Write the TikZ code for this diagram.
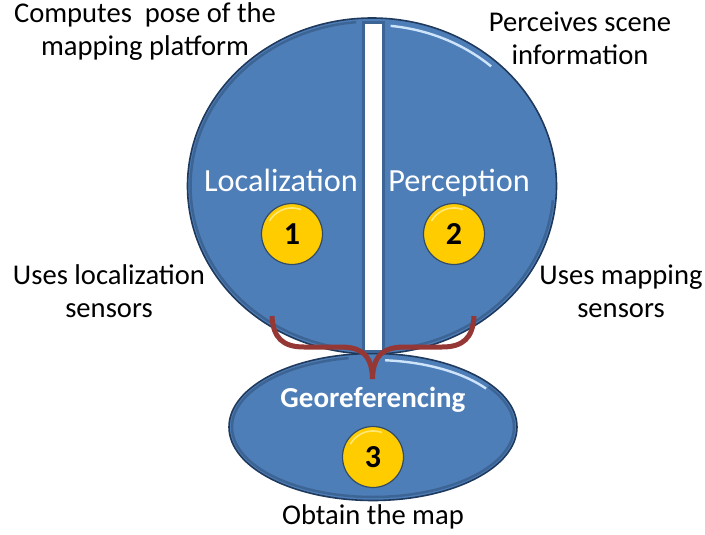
\documentclass[tikz,border=0pt]{standalone}
\usepackage{fontspec}
\setmainfont{Carlito}
\usetikzlibrary{positioning, shapes.geometric}
\definecolor{blobblue}{RGB}{78, 126, 184}
\definecolor{blobedge}{RGB}{32, 58, 94}
\definecolor{blobring}{RGB}{60, 100, 148}
\definecolor{blobglow}{RGB}{205, 228, 250}
\definecolor{bracered}{RGB}{149, 55, 53}
\definecolor{coinedge}{RGB}{50, 75, 105}
\definecolor{coinglow}{RGB}{255, 232, 120}
\pgfdeclareradialshading{coinshade}{\pgfpointorigin}{
    rgb(0bp)=(1,0.8,0);
    rgb(40bp)=(1,0.8,0);
    rgb(50bp)=(0.8,0.62,0);
    rgb(100bp)=(0.8,0.62,0)}
\tikzset{
    blobnode/.style={ellipse, draw=blobedge, line width=1.6pt, fill=blobblue, inner sep=0pt},
    coinnode/.style={circle, draw=coinedge, line width=1.2pt, minimum size=61pt, inner sep=0pt,
        shading=coinshade, font=\fontsize{32}{32}\selectfont\bfseries},
    titlenode/.style={anchor=base, text=white, font=\fontsize{32.3}{32}\selectfont},
    notenode/.style={align=center, text=black, font=\fontsize{28.6}{33}\selectfont},
    bracepath/.style={draw=bracered, line width=5pt}
}
\begin{document}
\begin{tikzpicture}[x=1pt, y=-1pt]
    \useasboundingbox (0,0) rectangle (705,535);

    % The two ellipses
    \node[blobnode, minimum width=369pt, minimum height=336pt] (scene) at (372,186) {};
    \node[blobnode, minimum width=288pt, minimum height=147pt] (georef) at (373,427) {};

    % Bevel on the ellipses
    \draw[blobring, line width=2.5pt] plot[domain=95:320, samples=60, smooth] ({372+181.5*cos(\x)},{186-164.5*sin(\x)});
    \draw[blobring, line width=2.5pt] plot[domain=-5:-40, samples=15, smooth] ({372+181.5*cos(\x)},{186-164.5*sin(\x)});
    \draw[blobglow, line width=2.4pt] plot[domain=48:84, samples=20, smooth] ({372+178*cos(\x)},{186-161*sin(\x)});
    \draw[blobring, line width=2.5pt] plot[domain=100:395, samples=60, smooth] ({373+141*cos(\x)},{427-70*sin(\x)});
    \draw[blobglow, line width=2.4pt] plot[domain=35:85, samples=20, smooth] ({373+138*cos(\x)},{427-67*sin(\x)});

    % White slot between the halves
    \node[draw=blobring, line width=3pt, fill=white, minimum width=20pt, minimum height=329pt, inner sep=0pt] (slot) at (373.5,187) {};

    % Brace into the lower ellipse
    \coordinate (braceleft) at (272,316);
    \coordinate (braceright) at (474,316);
    \coordinate (bracetip) at (372.5,379);
    \draw[bracepath] (braceleft) .. controls (273,338) and (283,347) .. (304,347) -- (340,347)
        .. controls (358,347) and (372,352) .. (bracetip);
    \draw[bracepath] (braceright) .. controls (473,338) and (463,347) .. (442,347) -- (405,347)
        .. controls (387,347) and (373,352) .. (bracetip);

    % Numbered coins
    \node[coinnode] (one) at (292,234) {1};
    \node[coinnode] (two) at (454,234) {2};
    \node[coinnode] (three) at (373,457) {3};
    \foreach \cx/\cy in {292/234, 454/234, 373/457}
        \draw[coinglow, line width=1.6pt] plot[domain=70:150, samples=15, smooth] ({\cx+26*cos(\x)},{\cy-26*sin(\x)});

    % Titles
    \node[titlenode] (localization) at (281,191) {Localization};
    \node[titlenode] (perception) at (459,191) {Perception};
    \node[titlenode, font=\fontsize{29}{29}\selectfont\bfseries] (georeferencing) at (373,407) {Georeferencing};

    % Notes around the ellipses
    \node[notenode] (pose) at (145,32) {Computes\ \ pose of the\\mapping platform};
    \node[notenode] (info) at (580,38) {Perceives scene\\information};
    \node[notenode] (locsensors) at (109,291) {Uses localization\\sensors};
    \node[notenode] (mapsensors) at (621,291) {Uses mapping\\sensors};
    \node[notenode, below=0pt of georef] (obtain) {Obtain the map};
\end{tikzpicture}
\end{document}
